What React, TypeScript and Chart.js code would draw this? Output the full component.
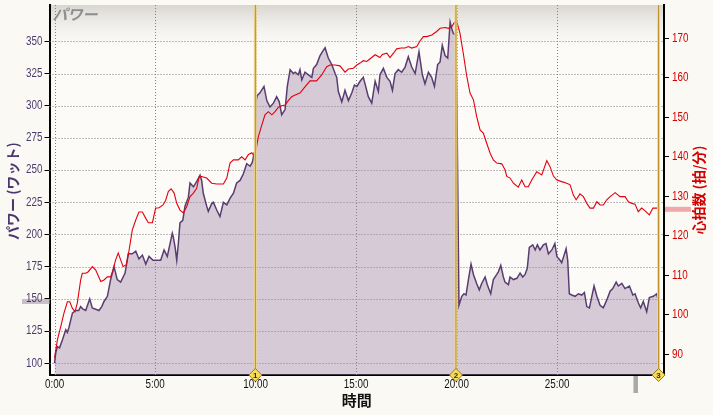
import React, { useEffect, useRef } from 'react';
import { Chart, registerables } from 'chart.js';

Chart.register(...registerables);

const NUM_FONT = "'Liberation Sans', Arial, sans-serif";
const JP_FONT = "'Noto Sans CJK JP', 'Noto Sans', sans-serif";

// ---- data (minutes, value) ----
const xTickMinutes = [0, 5, 10, 15, 20, 25];
const powerTicks = [100, 125, 150, 175, 200, 225, 250, 275, 300, 325, 350];
const heartTicks = [90, 100, 110, 120, 130, 140, 150, 160, 170];
const lapMinutes = [9.99, 19.97, 30.05];
const lapLabels = ['1', '2', '3'];
const avgPower = 148;
const avgHeart = 126.7;
const cursorMinute = 28.9;

const powerSamples: [number, number][] = [
  [0.0, 100], [0.06, 108], [0.14, 113], [0.25, 112], [0.39, 118], [0.56, 126], [0.64, 124], [0.72, 128],
  [0.89, 139], [1.05, 141], [1.2, 141], [1.3, 144], [1.42, 142], [1.55, 141], [1.75, 150], [1.88, 143],
  [2.05, 142], [2.21, 141], [2.35, 144], [2.46, 148], [2.63, 152], [2.79, 165], [2.96, 175], [3.12, 165],
  [3.29, 163], [3.51, 170], [3.67, 185], [3.87, 185], [4.04, 187], [4.2, 181], [4.37, 184], [4.54, 177],
  [4.7, 183], [4.9, 180], [5.11, 180], [5.28, 180], [5.45, 188], [5.61, 183], [5.86, 201], [5.91, 198],
  [6.0, 190], [6.08, 180], [6.16, 193], [6.24, 209], [6.38, 211], [6.49, 222], [6.66, 229], [6.74, 240],
  [6.91, 237], [7.07, 241], [7.24, 246], [7.32, 242], [7.4, 232], [7.57, 222], [7.65, 218], [7.82, 224],
  [7.9, 225], [8.07, 219], [8.23, 214], [8.4, 225], [8.57, 223], [8.73, 228], [8.9, 232], [9.06, 240],
  [9.23, 242], [9.39, 247], [9.56, 255], [9.73, 253], [9.84, 256], [9.93, 263], [9.99, 262], [10.04, 305],
  [10.09, 308], [10.22, 310], [10.42, 315], [10.56, 304], [10.72, 299], [10.89, 302], [11.05, 307], [11.18, 303],
  [11.3, 293], [11.47, 297], [11.58, 315], [11.72, 328], [11.88, 325], [11.97, 326], [12.13, 324], [12.21, 328],
  [12.3, 320], [12.46, 326], [12.63, 324], [12.8, 322], [12.88, 329], [13.04, 332], [13.21, 339], [13.37, 343],
  [13.46, 345], [13.54, 341], [13.62, 337], [13.79, 332], [13.96, 325], [14.04, 322], [14.12, 311], [14.29, 303],
  [14.45, 312], [14.62, 304], [14.79, 310], [14.92, 316], [15.04, 315], [15.2, 319], [15.36, 322], [15.48, 315],
  [15.61, 307], [15.78, 302], [15.95, 319], [16.11, 311], [16.19, 324], [16.36, 329], [16.53, 322], [16.69, 319],
  [16.81, 312], [16.94, 325], [17.1, 328], [17.27, 326], [17.44, 330], [17.6, 338], [17.77, 330], [17.94, 325],
  [18.13, 342], [18.3, 324], [18.43, 317], [18.6, 326], [18.76, 322], [18.9, 315], [19.06, 332], [19.18, 334],
  [19.29, 347], [19.43, 339], [19.56, 337], [19.68, 365], [19.76, 360], [19.84, 356], [19.96, 355], [20.02, 300],
  [20.12, 145], [20.26, 152], [20.37, 154], [20.47, 153], [20.59, 165], [20.72, 177], [20.84, 169], [21.0, 162],
  [21.13, 157], [21.25, 162], [21.42, 167], [21.53, 161], [21.7, 154], [21.83, 165], [22.0, 169], [22.08, 171],
  [22.2, 176], [22.33, 167], [22.41, 163], [22.58, 161], [22.66, 167], [22.83, 165], [23.0, 166], [23.16, 170],
  [23.29, 167], [23.41, 169], [23.52, 174], [23.62, 190], [23.79, 192], [23.91, 188], [24.02, 192], [24.15, 188],
  [24.32, 192], [24.45, 193], [24.57, 185], [24.74, 188], [24.89, 193], [24.99, 183], [25.15, 180], [25.23, 178],
  [25.35, 184], [25.45, 189], [25.53, 180], [25.61, 154], [25.73, 153], [25.9, 152], [26.06, 154], [26.23, 153],
  [26.36, 155], [26.48, 144], [26.61, 143], [26.73, 152], [26.84, 160], [26.98, 152], [27.14, 145], [27.3, 143],
  [27.47, 149], [27.64, 156], [27.77, 158], [27.94, 163], [28.05, 160], [28.22, 162], [28.38, 158], [28.6, 160],
  [28.77, 153], [28.88, 154], [29.04, 147], [29.16, 143], [29.29, 148], [29.46, 140], [29.59, 151], [29.79, 152],
  [29.96, 154], [30.04, 148],
];

const heartSamples: [number, number][] = [
  [0.0, 89], [0.14, 93.6], [0.31, 97], [0.47, 100.4], [0.64, 103.3], [0.76, 103.3], [0.89, 101.6], [1.02, 100.8],
  [1.13, 102.9], [1.3, 108.8], [1.38, 110.5], [1.55, 110.5], [1.68, 110.9], [1.88, 112.2], [2.05, 111.3], [2.3, 108.4],
  [2.46, 108.8], [2.63, 109.6], [2.79, 109.6], [2.91, 111.3], [3.04, 113.9], [3.17, 115.6], [3.29, 113.9], [3.41, 112.2],
  [3.57, 112.6], [3.71, 116.4], [3.87, 121.5], [4.04, 124], [4.2, 126], [4.37, 126], [4.54, 124.4], [4.67, 123.3],
  [4.87, 123.3], [5.03, 127], [5.2, 127.1], [5.4, 127.8], [5.53, 129], [5.66, 131.2], [5.8, 131.9], [5.95, 130.8],
  [6.08, 128.2], [6.24, 126.5], [6.41, 125.8], [6.58, 127.4], [6.74, 129.9], [6.91, 130.8], [7.07, 132], [7.2, 135],
  [7.32, 135], [7.57, 134.6], [7.82, 133.3], [8.07, 133.1], [8.4, 133.1], [8.57, 134.6], [8.73, 138.4], [8.9, 139.2],
  [9.14, 139.2], [9.31, 140], [9.48, 139.2], [9.64, 140.5], [9.81, 141], [9.93, 140.2], [10.02, 141.7], [10.14, 145.1],
  [10.31, 148], [10.47, 150.6], [10.64, 151.4], [10.81, 150.6], [10.97, 151.4], [11.13, 152.5], [11.3, 152.9], [11.47, 153.1],
  [11.63, 154.2], [11.8, 155.2], [11.97, 155.6], [12.21, 156.1], [12.46, 157.7], [12.71, 159.2], [13.04, 159.2], [13.29, 160.7],
  [13.54, 162.8], [13.71, 163.2], [13.96, 163.2], [14.2, 163], [14.45, 161.4], [14.62, 162.2], [14.87, 162.4], [15.04, 163.2],
  [15.2, 163.7], [15.36, 164.3], [15.53, 164.1], [15.7, 164.8], [15.95, 165.8], [16.19, 165.1], [16.31, 165.9], [16.53, 166.2],
  [16.69, 165.1], [16.86, 166.2], [17.02, 167.3], [17.24, 167.5], [17.44, 167.5], [17.6, 167.9], [17.77, 167.5], [18.02, 167.9],
  [18.18, 169.3], [18.35, 170.4], [18.52, 170.4], [18.77, 170.8], [19.01, 171.7], [19.18, 172.5], [19.43, 172.7], [19.59, 172.5],
  [19.76, 172.9], [19.89, 174], [20.01, 174.2], [20.17, 171.3], [20.34, 166], [20.51, 160.3], [20.67, 156.1], [20.84, 154.4],
  [21.0, 150.2], [21.17, 146.8], [21.33, 146], [21.5, 143.4], [21.67, 140.9], [21.83, 139.2], [22.0, 138.4], [22.25, 138.2],
  [22.41, 136.7], [22.5, 135], [22.66, 134.6], [22.83, 133.3], [23.07, 132.3], [23.24, 134.1], [23.41, 132.4], [23.57, 132.4],
  [23.74, 134.1], [23.99, 136.2], [24.24, 135.4], [24.49, 139], [24.65, 137.5], [24.82, 135.1], [24.99, 134.1], [25.23, 133.7],
  [25.48, 133.3], [25.65, 132.9], [25.81, 130.3], [25.95, 129.1], [26.14, 130.6], [26.31, 129.9], [26.48, 128.2], [26.64, 127],
  [26.81, 127], [26.98, 128.6], [27.14, 127.8], [27.3, 127.8], [27.47, 129.1], [27.64, 129.9], [27.89, 130.9], [28.13, 129.9],
  [28.38, 129.9], [28.55, 128.6], [28.72, 128.2], [28.88, 128], [29.04, 126.1], [29.21, 127], [29.38, 126.3], [29.59, 125.3],
  [29.77, 127], [30.04, 127],
];

const fmtMinute = (m: number) => `${Math.round(m)}:00`;

// condensed text helper (the original uses a narrow bitmap-like font)
function narrowText(ctx: CanvasRenderingContext2D, text: string, x: number, y: number, align: CanvasTextAlign) {
  ctx.save();
  ctx.translate(x, y);
  ctx.scale(0.82, 1);
  ctx.textAlign = align;
  ctx.textBaseline = 'middle';
  ctx.fillText(text, 0, 0);
  ctx.restore();
}

const decorPlugin = {
  id: 'decor',
  beforeDraw(chart: any) {
    const { ctx, chartArea: ca } = chart;
    ctx.save();
    ctx.fillStyle = '#fbf9f3';
    ctx.fillRect(0, 0, chart.width, chart.height);
    ctx.fillStyle = '#fcfbf8';
    ctx.fillRect(ca.left, ca.top, ca.right - ca.left, ca.bottom - ca.top);
    const g = ctx.createLinearGradient(0, ca.top, 0, ca.top + 50);
    g.addColorStop(0, '#d9d6d1');
    g.addColorStop(1, 'rgba(252,251,248,0)');
    ctx.fillStyle = g;
    ctx.fillRect(ca.left, ca.top, ca.right - ca.left, 50);
    ctx.restore();
  },
  beforeDatasetsDraw(chart: any) {
    const { ctx, chartArea: ca, scales } = chart;
    ctx.save();
    ctx.strokeStyle = '#808080';
    ctx.lineWidth = 1;
    ctx.setLineDash([1, 2]);
    ctx.beginPath();
    powerTicks.forEach((v) => {
      const y = Math.round(scales.yP.getPixelForValue(v)) + 0.5;
      ctx.moveTo(ca.left, y);
      ctx.lineTo(ca.right, y);
    });
    xTickMinutes.forEach((m) => {
      const x = Math.round(scales.x.getPixelForValue(m)) + 0.5;
      ctx.moveTo(x, ca.top);
      ctx.lineTo(x, ca.bottom);
    });
    ctx.stroke();
    ctx.restore();
  },
  afterDatasetsDraw(chart: any) {
    const { ctx, chartArea: ca, scales } = chart;
    ctx.save();
    // lap lines
    lapMinutes.forEach((m) => {
      const x = scales.x.getPixelForValue(m);
      ctx.fillStyle = '#efd896';
      ctx.fillRect(x - 1.5, ca.top, 3, ca.bottom - ca.top);
      ctx.fillStyle = '#b98f2a';
      ctx.fillRect(x - 0.5, ca.top, 1, ca.bottom - ca.top);
    });
    // lap diamonds
    lapMinutes.forEach((m, i) => {
      const x = scales.x.getPixelForValue(m);
      const y = ca.bottom;
      ctx.beginPath();
      ctx.moveTo(x, y - 6.5);
      ctx.lineTo(x + 6.5, y);
      ctx.lineTo(x, y + 6.5);
      ctx.lineTo(x - 6.5, y);
      ctx.closePath();
      ctx.fillStyle = '#f5dc5a';
      ctx.fill();
      ctx.strokeStyle = '#9a7a1c';
      ctx.lineWidth = 1;
      ctx.stroke();
      ctx.fillStyle = '#3a2a10';
      ctx.font = `bold 8px ${NUM_FONT}`;
      ctx.textAlign = 'center';
      ctx.textBaseline = 'middle';
      ctx.fillText(lapLabels[i], x, y + 0.5);
    });
    // average markers
    const yAvgP = scales.yP.getPixelForValue(avgPower);
    ctx.fillStyle = '#c9bec8';
    ctx.fillRect(22, yAvgP - 2.5, ca.left - 22, 5);
    const yAvgH = scales.yH.getPixelForValue(avgHeart);
    ctx.fillStyle = '#eeaaaa';
    ctx.fillRect(ca.right + 1, yAvgH - 2.5, 26, 5);
    const xc = scales.x.getPixelForValue(cursorMinute);
    ctx.fillStyle = '#a9a9a9';
    ctx.fillRect(xc - 2, ca.bottom + 1, 4.5, 17);

    // tick labels
    ctx.font = `12px ${NUM_FONT}`;
    ctx.fillStyle = '#4b3a6e';
    powerTicks.forEach((v) => narrowText(ctx, String(v), ca.left - 7, scales.yP.getPixelForValue(v), 'right'));
    ctx.fillStyle = '#d40000';
    heartTicks.forEach((v) => narrowText(ctx, String(v), ca.right + 8, scales.yH.getPixelForValue(v), 'left'));
    ctx.fillStyle = '#111';
    xTickMinutes.forEach((m) => narrowText(ctx, fmtMinute(m), scales.x.getPixelForValue(m), ca.bottom + 10, 'center'));

    // titles
    ctx.textAlign = 'left';
    ctx.textBaseline = 'middle';
    ctx.fillStyle = '#8e8e8e';
    ctx.font = `italic bold 15px ${JP_FONT}`;
    ctx.fillText('パワー', ca.left + 3, ca.top + 9);

    ctx.textAlign = 'center';
    ctx.font = `bold 14px ${JP_FONT}`;
    ctx.save();
    ctx.translate(13, 191);
    ctx.rotate(-Math.PI / 2);
    ctx.fillStyle = '#4d3570';
    ctx.fillText('パワー (ワット)', 0, 0);
    ctx.restore();

    ctx.save();
    ctx.translate(699, 190);
    ctx.rotate(-Math.PI / 2);
    ctx.fillStyle = '#d40000';
    ctx.fillText('心拍数 (拍/分)', 0, 0);
    ctx.restore();

    ctx.fillStyle = '#111';
    ctx.font = `bold 15px ${JP_FONT}`;
    ctx.fillText('時間', (ca.left + ca.right) / 2, 400);
    ctx.restore();
  },
};

export default function App() {
  const ref = useRef<HTMLCanvasElement>(null);
  useEffect(() => {
    document.body.style.margin = '0';
    document.body.style.background = '#fbf9f3';
    if (!ref.current) return;
    const chart = new Chart(ref.current, {
      type: 'line',
      data: {
        datasets: [
          {
            label: '心拍数',
            data: heartSamples.map(([x, y]) => ({ x, y })),
            borderColor: '#e2000e',
            borderWidth: 1.1,
            fill: false,
            pointRadius: 0,
            tension: 0,
            yAxisID: 'yH',
          },
          {
            label: 'パワー',
            data: powerSamples.map(([x, y]) => ({ x, y })),
            borderColor: '#5a3d70',
            borderWidth: 1.5,
            backgroundColor: 'rgba(157,131,163,0.4)',
            fill: 'start',
            pointRadius: 0,
            tension: 0,
            yAxisID: 'yP',
          },
        ],
      },
      options: {
        responsive: false,
        animation: false,
        events: [],
        layout: { padding: { top: 5, left: 0, right: 0, bottom: 0 } },
        plugins: { legend: { display: false }, tooltip: { enabled: false } },
        scales: {
          x: {
            type: 'linear',
            min: -0.25,
            max: 30.32,
            afterBuildTicks: (s: any) => {
              s.ticks = xTickMinutes.map((v) => ({ value: v }));
            },
            afterFit: (s: any) => {
              s.height = 40;
            },
            ticks: { display: false },
            grid: { drawOnChartArea: false, drawTicks: false },
            border: { display: true, color: '#000', width: 2 },
          },
          yP: {
            type: 'linear',
            position: 'left',
            min: 90.9,
            max: 378.2,
            afterBuildTicks: (s: any) => {
              s.ticks = powerTicks.map((v) => ({ value: v }));
            },
            afterFit: (s: any) => {
              s.width = 49.5;
            },
            ticks: { display: false },
            grid: { drawOnChartArea: false, drawTicks: true, tickLength: 5, tickColor: '#000', tickWidth: 1 },
            border: { display: true, color: '#000', width: 2 },
          },
          yH: {
            type: 'linear',
            position: 'right',
            min: 84.76,
            max: 178.4,
            afterBuildTicks: (s: any) => {
              s.ticks = heartTicks.map((v) => ({ value: v }));
            },
            afterFit: (s: any) => {
              s.width = 49;
            },
            ticks: { display: false },
            grid: { drawOnChartArea: false, drawTicks: true, tickLength: 5, tickColor: '#000', tickWidth: 1 },
            border: { display: true, color: '#000', width: 2 },
          },
        },
      },
      plugins: [decorPlugin],
    });
    return () => chart.destroy();
  }, []);
  return (
    <div style={{ position: 'absolute', left: 0, top: 0, width: 713, height: 415, background: '#fbf9f3' }}>
      <canvas ref={ref} width={713} height={415} />
    </div>
  );
}
